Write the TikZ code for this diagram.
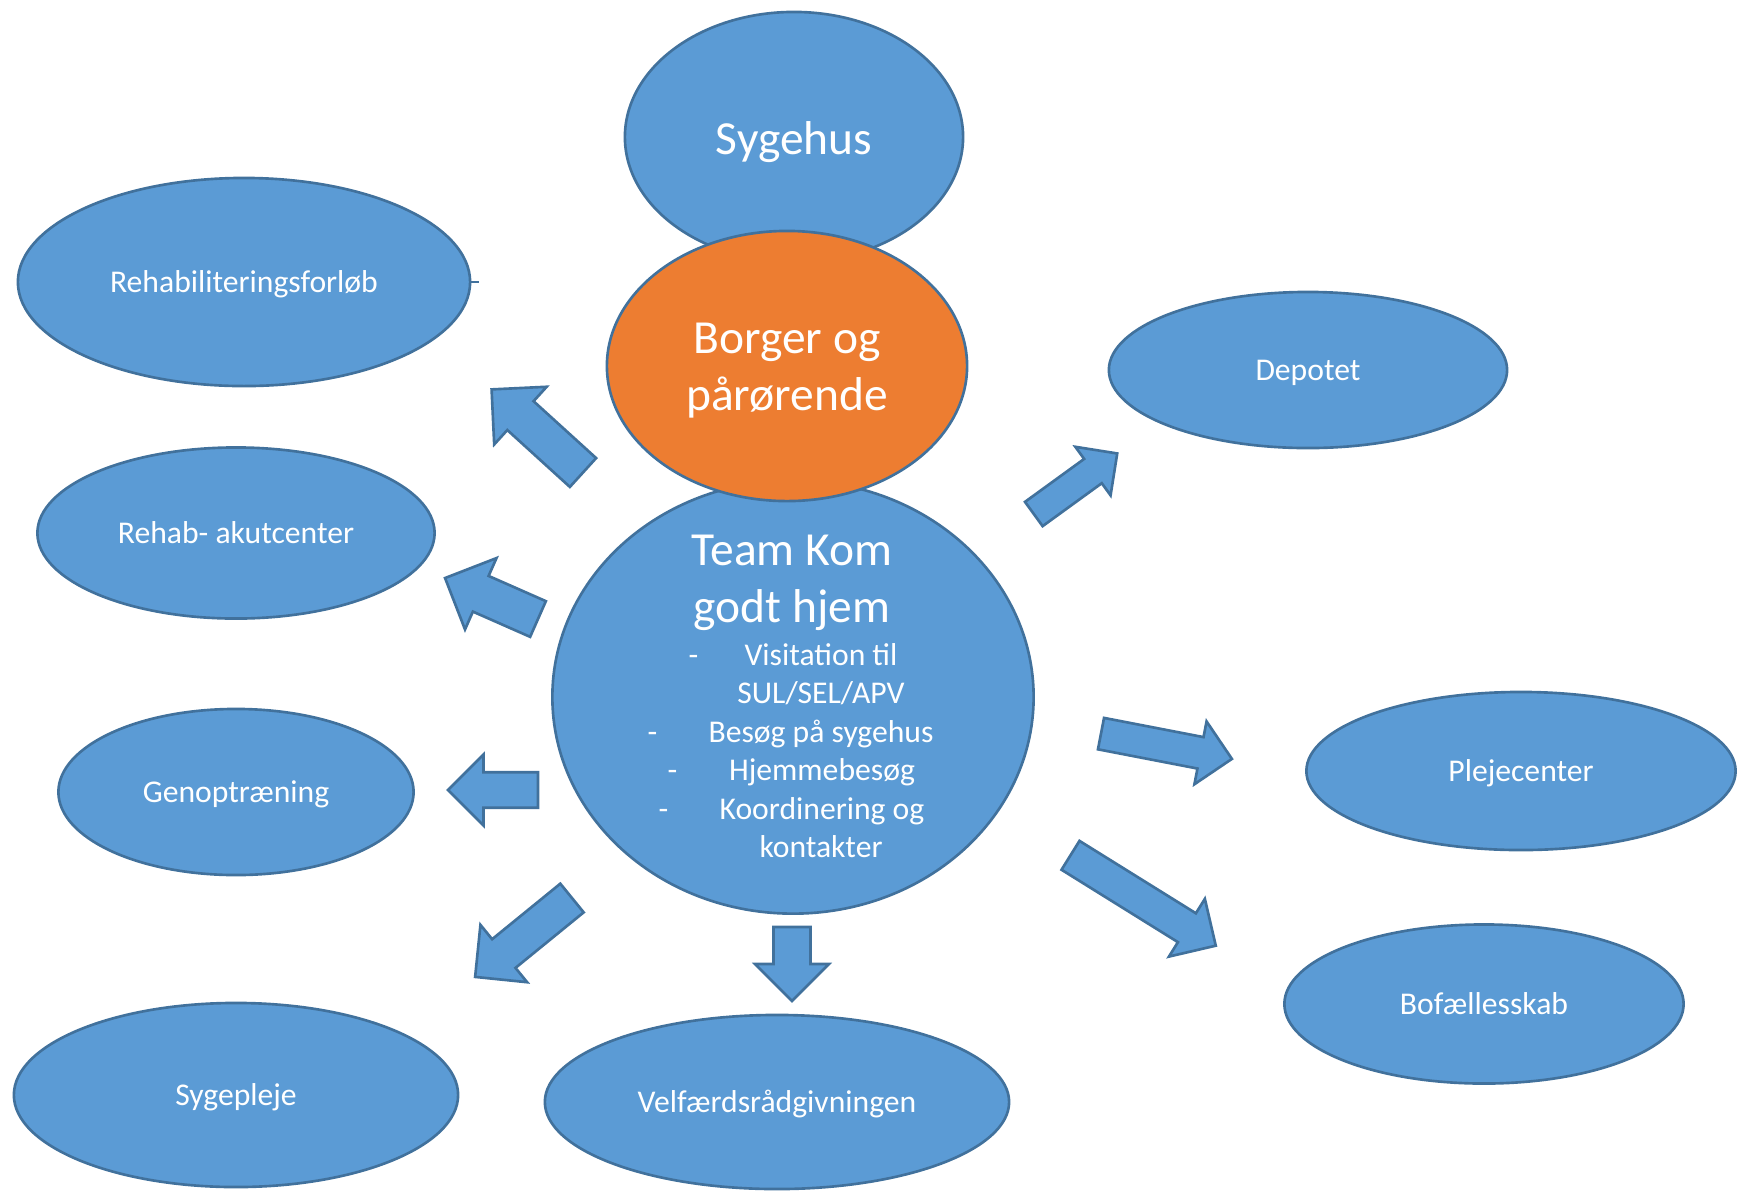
\documentclass[tikz,border=0pt]{standalone}
\usepackage{fontspec}
\setmainfont{Carlito}
\usetikzlibrary{shapes.geometric,calc}
\definecolor{offblue}{HTML}{5B9BD5}
\definecolor{offline}{HTML}{41719C}
\definecolor{offorange}{HTML}{ED7D31}
\tikzset{
  bubble/.style={ellipse,draw=offline,fill=offblue,line width=0.75pt,inner sep=0pt,
    text=white,font=\fontsize{9}{11}\selectfont,text height=6.4pt,text depth=0.4pt},
  bigtext/.style={text=white,font=\fontsize{13.5}{16.2}\selectfont,inner sep=0pt,anchor=base},
  smalltext/.style={text=white,font=\fontsize{9}{11}\selectfont,inner sep=0pt,anchor=base},
  flowarrow/.style={draw=offline,fill=offblue,line width=0.75pt,line join=miter}
}
% block arrow: #1 shaft width, #2 tail, #3 tip
\newcommand{\blockarrow}[3]{%
  \path let \p1=($(#3)-(#2)$) in
    \pgfextra{\pgfmathsetmacro\arrang{atan2(\y1,\x1)}%
      \pgfmathsetmacro\arrlen{veclen(\x1,\y1)/0.284528}%
      \global\let\arrang\arrang\global\let\arrlen\arrlen};
  \draw[flowarrow,shift={(#2)},rotate=\arrang]
    (0,#1/2)--(\arrlen-#1,#1/2)--(\arrlen-#1,#1)--(\arrlen,0)
    --(\arrlen-#1,-#1)--(\arrlen-#1,-#1/2)--(0,-#1/2)--cycle;
}
\begin{document}
\begin{tikzpicture}[x=0.01cm,y=-0.01cm,line join=round]
		\useasboundingbox (0,0) rectangle (1741,1196);
		% midten
		\node[bubble,minimum width=3.38cm,minimum height=2.50cm,font=\fontsize{13.5}{16.2}\selectfont,text height=10.5pt,text depth=0.3pt] (sygehus) at (794,137) {Sygehus};
		\node[bubble,minimum width=4.81cm,minimum height=4.33cm] (team) at (793,697) {};
		\node[bubble,fill=offorange,minimum width=3.60cm,minimum height=2.70cm] (borger) at (787,366) {};
		\node[bigtext] (borger1) at (787,353) {Borger og};
		\node[bigtext] (borger2) at (787,410) {pårørende};
		\node[bigtext] (team1) at (792,565) {Team Kom};
		\node[bigtext] (team2) at (792,622) {godt hjem};
		\node[smalltext,anchor=base west] (streg1) at (688,665) {-};
		\node[smalltext] (punkt1) at (821,665) {Visitation til};
		\node[smalltext] (punkt1b) at (821,703) {SUL/SEL/APV};
		\node[smalltext,anchor=base west] (streg2) at (647,742) {-};
		\node[smalltext] (punkt2) at (821,742) {Besøg på sygehus};
		\node[smalltext,anchor=base west] (streg3) at (667,780) {-};
		\node[smalltext] (punkt3) at (822,780) {Hjemmebesøg};
		\node[smalltext,anchor=base west] (streg4) at (658,819) {-};
		\node[smalltext] (punkt4) at (822,819) {Koordinering og};
		\node[smalltext] (punkt4b) at (821,857) {kontakter};
		% venstre og bund
		\node[bubble,minimum width=4.52cm,minimum height=2.08cm] (forloeb) at (244,282) {Rehabiliteringsforløb};
		\draw[draw=offline,line width=0.75pt] (forloeb.east)--++(8,0);
		\node[bubble,minimum width=3.97cm,minimum height=1.71cm] (akut) at (236,533) {Rehab- akutcenter};
		\node[bubble,minimum width=3.55cm,minimum height=1.66cm] (genop) at (236,792) {Genoptræning};
		\node[bubble,minimum width=4.44cm,minimum height=1.84cm] (sygepleje) at (236,1095) {Sygepleje};
		\node[bubble,minimum width=4.64cm,minimum height=1.74cm] (velfaerd) at (777,1102) {Velfærdsrådgivningen};
		% hoejre
		\node[bubble,minimum width=3.98cm,minimum height=1.56cm] (depot) at (1308,370) {Depotet};
		\node[bubble,minimum width=4.29cm,minimum height=1.58cm] (pleje) at (1521,771) {Plejecenter};
		\node[bubble,minimum width=3.99cm,minimum height=1.59cm] (bofael) at (1484,1004) {Bofællesskab};
		% pile
		\coordinate (p1a) at (583,472.5); \coordinate (p1b) at (491.5,389.3);
		\coordinate (p2a) at (538,619);   \coordinate (p2b) at (445,578);
		\coordinate (p3a) at (538,790);   \coordinate (p3b) at (448,790);
		\coordinate (p4a) at (572,898);   \coordinate (p4b) at (475,977);
		\coordinate (p5a) at (792,927);   \coordinate (p5b) at (792,1001);
		\coordinate (p6a) at (1070.5,855.3); \coordinate (p6b) at (1216,945.8);
		\coordinate (p7a) at (1101,733.6); \coordinate (p7b) at (1232,758.9);
		\coordinate (p8a) at (1033.8,514); \coordinate (p8b) at (1117.3,453.4);
		\blockarrow{39}{p1a}{p1b}
		\blockarrow{39}{p2a}{p2b}
		\blockarrow{35.5}{p3a}{p3b}
		\blockarrow{37}{p4a}{p4b}
		\blockarrow{37}{p5a}{p5b}
		\blockarrow{34}{p6a}{p6b}
		\blockarrow{32}{p7a}{p7b}
		\blockarrow{30}{p8a}{p8b}
\end{tikzpicture}
\end{document}
